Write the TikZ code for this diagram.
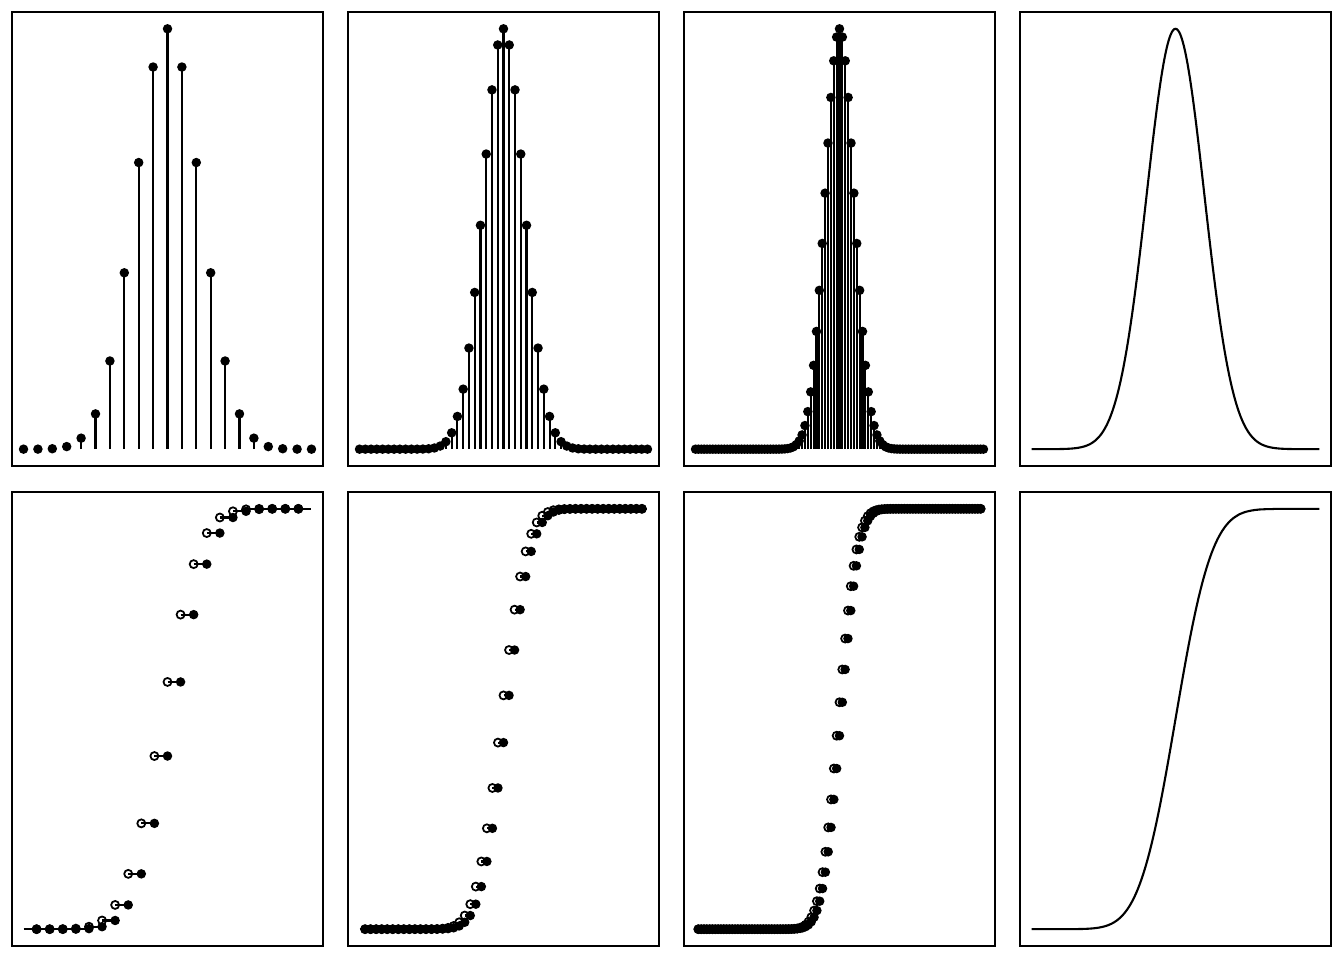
\documentclass[tikz,border=0pt]{standalone}
\usepackage{xfp}
\usetikzlibrary{calc}

\begin{document}
\begin{tikzpicture}[
    panel/.style={draw, line width=1.2pt},
    stem/.style={line width=1.2pt},
    dot/.style={fill=black},
    hollow/.style={draw, line width=1pt},
    curve/.style={line width=1.2pt},
]
\useasboundingbox (0,0) rectangle (26.88,19.2);

\foreach \col in {0,1,2,3} {
    \draw[panel] ({0.24+6.72*\col}, 9.88) rectangle ++(6.22, 9.08);
    \draw[panel] ({0.24+6.72*\col}, 0.28) rectangle ++(6.22, 9.08);
}

\foreach \n [count=\col from 0] in {20,50,100} {
    \begin{scope}[shift={({0.4704+6.72*\col}, 10.2163)}, x={({5.7593/\n},0)}, y={(0,8.4074)}]
    \foreach \k in {0,...,\n} {
        \edef\pk{\fpeval{round(fact(\n/2)^2/(fact(\k)*fact(\n-\k)),5)}}
        \draw[stem] (\k,0) -- (\k,\pk);
        \fill[dot] (\k,\pk) circle[radius=0.095cm];
    }
    \end{scope}
}

\begin{scope}[shift={({0.4704+6.72*3}, 10.2163)}, x={(0.57593,0)}, y={(0,8.4074)}]
    \draw[curve] plot[domain=-5:5, samples=241] ({\x+5}, {exp(-\x*\x/2)});
\end{scope}

\foreach \n [count=\col from 0] in {20,50,100} {
    \begin{scope}[shift={({0.4704+6.72*\col+5.7593/(\n+2)}, 0.6163)}, x={({5.7593/(\n+2)},0)}, y={(0,8.4074)}]
    \gdef\cdf{0}
    \draw[stem] (-1,0) -- (0,0);
    \fill[dot] (0,0) circle[radius=0.095cm];
    \foreach \k in {0,...,\n} {
        \xdef\cdf{\fpeval{\cdf+fact(\n)/(fact(\k)*fact(\n-\k))*0.5^\n}}
        \edef\fk{\fpeval{round(\cdf,5)}}
        \draw[stem] (\k,\fk) -- (\k+1,\fk);
        \draw[hollow] (\k,\fk) circle[radius=0.08cm];
        \ifnum\k<\n \fill[dot] (\k+1,\fk) circle[radius=0.095cm]; \fi
    }
    \end{scope}
}

\begin{scope}[shift={({0.4704+6.72*3}, 0.6163)}, x={(0.57593,0)}, y={(0,8.4074)}]
    \draw[curve] plot[domain=-5:5, samples=241] ({\x+5}, {1/(1+exp(min(9,-(0.07056*\x*\x*\x+1.5976*\x))))});
\end{scope}

\end{tikzpicture}
\end{document}
